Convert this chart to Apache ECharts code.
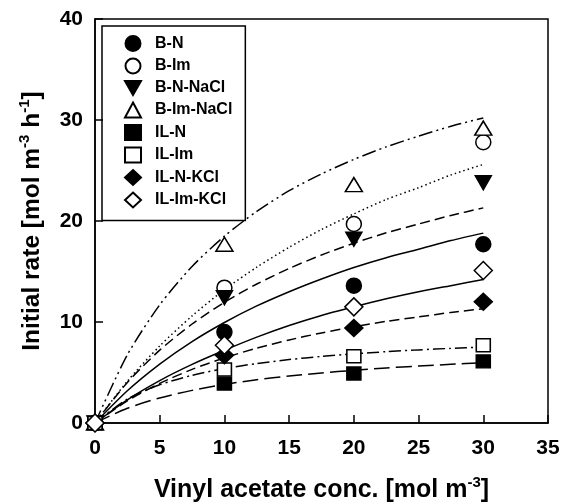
<!DOCTYPE html>
<html>
<head>
<meta charset="utf-8">
<script src="https://cdn.jsdelivr.net/npm/echarts@6/dist/echarts.min.js"></script>
<style>html,body{margin:0;padding:0;background:#fff}#c{width:563px;height:504px}</style>
</head>
<body>
<div id="c"></div>
<script>
// ---- data ----
const seriesNames = ['B-N', 'B-Im', 'B-N-NaCl', 'B-Im-NaCl', 'IL-N', 'IL-Im', 'IL-N-KCl', 'IL-Im-KCl'];
const xPoints = [0, 10, 20, 30];
const ptsBN       = [0, 9.0, 13.6, 17.7];
const ptsBIm      = [0, 13.4, 19.7, 27.8];
const ptsBNNaCl   = [0, 12.4, 18.2, 23.8];
const ptsBImNaCl  = [0, 17.7, 23.6, 29.2];
const ptsILN      = [0, 3.9, 4.9, 6.1];
const ptsILIm     = [0, 5.3, 6.6, 7.7];
const ptsILNKCl   = [0, 6.7, 9.4, 12.0];
const ptsILImKCl  = [0, 7.7, 11.5, 15.1];

const xFit = [0, 2.5, 5, 7.5, 10, 12.5, 15, 17.5, 20, 22.5, 25, 27.5, 30];
const fitBN      = [0, 3.19, 5.83, 8.06, 9.95, 11.59, 13.0, 14.26, 15.4, 16.37, 17.2, 18.06, 18.8];
const fitBIm     = [0, 4.14, 7.63, 10.6, 13.2, 15.43, 17.4, 19.16, 20.7, 22.13, 23.3, 24.56, 25.6];
const fitBNNaCl  = [0, 4.02, 7.21, 9.80, 11.95, 13.76, 15.3, 16.64, 17.8, 18.83, 19.7, 20.55, 21.3];
const fitBImNaCl = [0, 6.75, 11.7, 15.5, 18.5, 20.95, 23.0, 24.66, 26.1, 27.34, 28.4, 29.38, 30.2];
const fitILN     = [0, 1.46, 2.48, 3.23, 3.82, 4.28, 4.65, 4.96, 5.22, 5.45, 5.64, 5.81, 5.96];
const fitILIm    = [0, 2.37, 3.78, 4.72, 5.39, 5.89, 6.28, 6.59, 6.85, 7.06, 7.24, 7.39, 7.53];
const fitILNKCl  = [0, 2.20, 3.92, 5.31, 6.45, 7.41, 8.22, 8.92, 9.53, 10.06, 10.5, 10.95, 11.3];
const fitILImKCl = [0, 2.30, 4.20, 5.80, 7.20, 8.50, 9.65, 10.65, 11.5, 12.3, 13.0, 13.6, 14.2];

const xTicks = [0, 5, 10, 15, 20, 25, 30, 35];
const yTicks = [0, 10, 20, 30, 40];

// ---- styles ----
const pts = [ptsBN, ptsBIm, ptsBNNaCl, ptsBImNaCl, ptsILN, ptsILIm, ptsILNKCl, ptsILImKCl];
const fits = [fitBN, fitBIm, fitBNNaCl, fitBImNaCl, fitILN, fitILIm, fitILNKCl, fitILImKCl];
const downTri = 'path://M0,0 L16,0 L8,14 Z';
const symbols = [
  {symbol: 'circle', size: 15, fill: '#000'},
  {symbol: 'circle', size: 15, fill: '#fff'},
  {symbol: downTri, size: [16, 14], fill: '#000'},
  {symbol: 'triangle', size: [17, 14], fill: '#fff'},
  {symbol: 'rect', size: [14, 13], fill: '#000'},
  {symbol: 'rect', size: [14, 13], fill: '#fff'},
  {symbol: 'diamond', size: [18, 17], fill: '#000'},
  {symbol: 'diamond', size: [18, 18], fill: '#fff'}
];
const lineTypes = [
  'solid',
  [1.5, 3],
  [10, 5],
  [14, 4, 2, 4, 2, 4],
  [16, 6],
  [12, 4, 2, 4],
  [10, 5],
  'solid'
];

const series = [];
fits.forEach((f, i) => {
  series.push({
    name: seriesNames[i] + ' fit',
    type: 'line',
    data: xFit.map((x, j) => [x, f[j]]),
    showSymbol: false,
    smooth: 0.25,
    lineStyle: {color: '#000', width: 1.5, type: lineTypes[i]},
    silent: true,
    z: 2
  });
});
pts.forEach((p, i) => {
  const s = symbols[i];
  series.push({
    name: seriesNames[i],
    type: 'scatter',
    data: xPoints.map((x, j) => [x, p[j]]),
    symbol: s.symbol,
    symbolSize: s.size,
    clip: false,
    itemStyle: {color: s.fill, borderColor: '#000', borderWidth: 1.5, opacity: 1},
    z: 3
  });
});

const font = 'Liberation Sans, Arial, sans-serif';
const supStyle = {fontFamily: font, fontSize: 15, fontWeight: 'bold', color: '#000', verticalAlign: 'top', lineHeight: 15};
const chart = echarts.init(document.getElementById('c'), null, {renderer: 'canvas'});
chart.setOption({
  animation: false,
  backgroundColor: '#fff',
  grid: {left: 95, right: 15, top: 19, bottom: 81, outerBoundsMode: 'none', containLabel: false,
    show: true, borderColor: '#000', borderWidth: 1.5, backgroundColor: 'transparent'},
  legend: {
    data: seriesNames,
    orient: 'vertical',
    left: 102,
    top: 26,
    itemWidth: 16,
    itemHeight: 15,
    itemGap: 5.5,
    padding: [9, 13, 12, 22],
    borderColor: '#000',
    borderWidth: 1.5,
    selectedMode: false,
    textStyle: {fontFamily: font, fontSize: 16, fontWeight: 'bold', color: '#000', padding: [0, 0, 0, 9]}
  },
  xAxis: {
    type: 'value',
    min: xTicks[0],
    max: xTicks[xTicks.length - 1],
    interval: 5,
    axisLine: {lineStyle: {color: '#000', width: 1.5}},
    axisTick: {inside: true, length: 8, lineStyle: {color: '#000', width: 1.5}},
    splitLine: {show: false},
    axisLabel: {fontFamily: font, fontSize: 21, fontWeight: 'bold', color: '#000', margin: 15},
    name: 'Vinyl acetate conc. [mol m{s|-3}]',
    nameLocation: 'middle',
    nameGap: 52,
    nameTextStyle: {fontFamily: font, fontSize: 25, fontWeight: 'bold', color: '#000', lineHeight: 30, rich: {s: supStyle}}
  },
  yAxis: {
    type: 'value',
    min: yTicks[0],
    max: yTicks[yTicks.length - 1],
    interval: 10,
    axisLine: {lineStyle: {color: '#000', width: 1.5}},
    axisTick: {inside: true, length: 8, lineStyle: {color: '#000', width: 1.5}},
    splitLine: {show: false},
    axisLabel: {fontFamily: font, fontSize: 21, fontWeight: 'bold', color: '#000', margin: 12},
    name: 'Initial rate [mol m{s|-3} h{s|-1}]',
    nameLocation: 'middle',
    nameGap: 48,
    nameTextStyle: {fontFamily: font, fontSize: 24.5, fontWeight: 'bold', color: '#000', lineHeight: 30, rich: {s: supStyle}}
  },
  series: series
});
</script>
</body>
</html>
